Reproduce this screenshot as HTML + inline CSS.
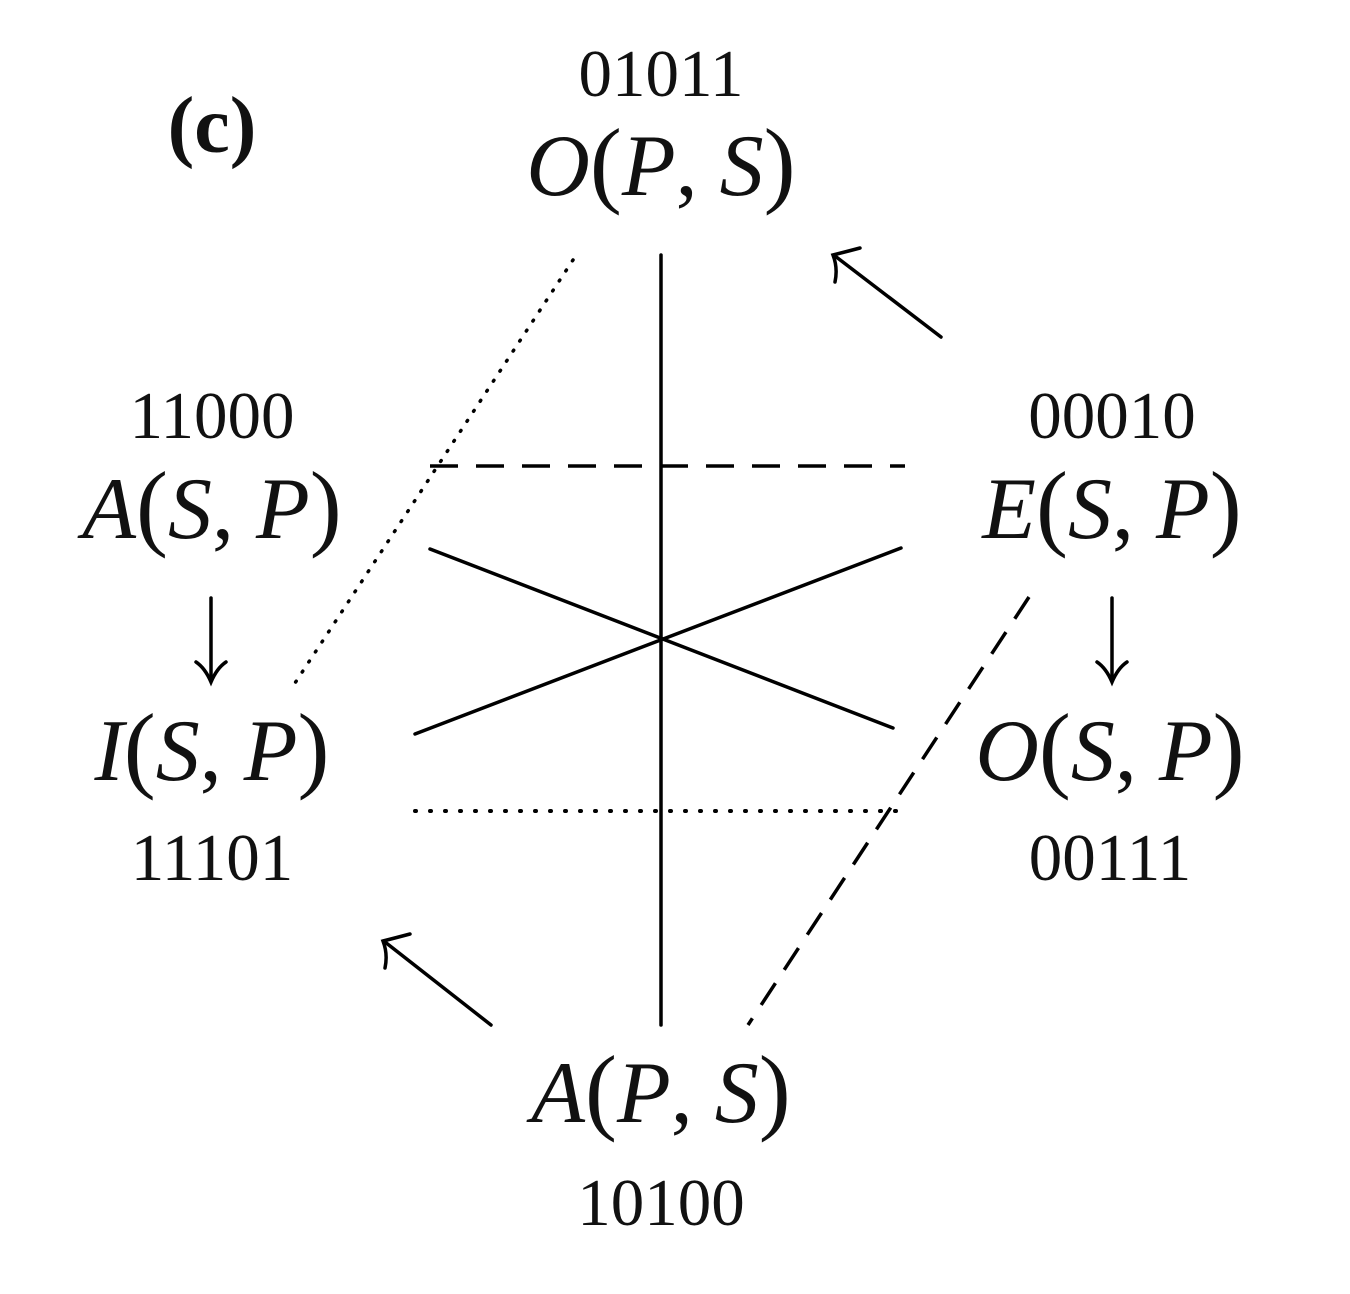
<!DOCTYPE html>
<html><head><meta charset="utf-8"><style>
html,body{margin:0;padding:0;background:#fff}
svg{display:block}
.n{font-family:"Liberation Serif",serif;font-size:67px;fill:#111}
.m{font-family:"Liberation Serif",serif;font-size:88px;fill:#111}
</style></head><body>
<svg width="1350" height="1294" viewBox="0 0 1350 1294" xmlns="http://www.w3.org/2000/svg">
<g fill="none" stroke="#000" stroke-width="3.5" stroke-linecap="round">
<line x1="661" y1="255" x2="661" y2="1025"/>
<line x1="430" y1="466" x2="905" y2="466" stroke-dasharray="28,18" stroke-linecap="butt"/>
<line x1="430" y1="549" x2="893" y2="728"/>
<line x1="415" y1="734" x2="901" y2="548"/>
<line x1="415" y1="811" x2="900" y2="811" stroke-dasharray="1,14" stroke-width="4"/>
<line x1="573" y1="260" x2="295" y2="683" stroke-dasharray="1,11" stroke-width="3.5"/>
<line x1="1029" y1="597" x2="748" y2="1025" stroke-dasharray="26,16" stroke-linecap="butt"/>
<line x1="941" y1="337" x2="835" y2="256"/>
<path d="M860 248 Q845 252 833 255 Q838 268 835 282"/>
<line x1="491" y1="1025" x2="385" y2="942"/>
<path d="M410 934 Q395 938 383 941 Q388 954 385 968"/>
<line x1="211" y1="598" x2="211" y2="680"/>
<path d="M196 662 Q205 668 211 682 Q217 668 226 662"/>
<line x1="1112" y1="598" x2="1112" y2="680"/>
<path d="M1097 662 Q1106 668 1112 682 Q1118 668 1127 662"/>
</g>
<text x="212" y="152" text-anchor="middle" class="n" style="font-weight:bold;font-size:80px">(c)</text>
<text x="661" y="96" text-anchor="middle" class="n">01011</text>
<text x="661" y="195" text-anchor="middle" class="m"><tspan font-style="italic">O</tspan><tspan font-size="96">(</tspan><tspan font-style="italic">P</tspan>, <tspan font-style="italic">S</tspan><tspan font-size="96">)</tspan></text>
<text x="212" y="438" text-anchor="middle" class="n">11000</text>
<text x="212" y="538" text-anchor="middle" class="m"><tspan font-style="italic">A</tspan><tspan font-size="96">(</tspan><tspan font-style="italic">S</tspan>, <tspan font-style="italic">P</tspan><tspan font-size="96">)</tspan></text>
<text x="1112" y="438" text-anchor="middle" class="n">00010</text>
<text x="1112" y="538" text-anchor="middle" class="m"><tspan font-style="italic">E</tspan><tspan font-size="96">(</tspan><tspan font-style="italic">S</tspan>, <tspan font-style="italic">P</tspan><tspan font-size="96">)</tspan></text>
<text x="212" y="780" text-anchor="middle" class="m"><tspan font-style="italic">I</tspan><tspan font-size="96">(</tspan><tspan font-style="italic">S</tspan>, <tspan font-style="italic">P</tspan><tspan font-size="96">)</tspan></text>
<text x="212" y="880" text-anchor="middle" class="n">11101</text>
<text x="1110" y="780" text-anchor="middle" class="m"><tspan font-style="italic">O</tspan><tspan font-size="96">(</tspan><tspan font-style="italic">S</tspan>, <tspan font-style="italic">P</tspan><tspan font-size="96">)</tspan></text>
<text x="1110" y="880" text-anchor="middle" class="n">00111</text>
<text x="661" y="1122" text-anchor="middle" class="m"><tspan font-style="italic">A</tspan><tspan font-size="96">(</tspan><tspan font-style="italic">P</tspan>, <tspan font-style="italic">S</tspan><tspan font-size="96">)</tspan></text>
<text x="661" y="1225" text-anchor="middle" class="n">10100</text>
</svg>
</body></html>
